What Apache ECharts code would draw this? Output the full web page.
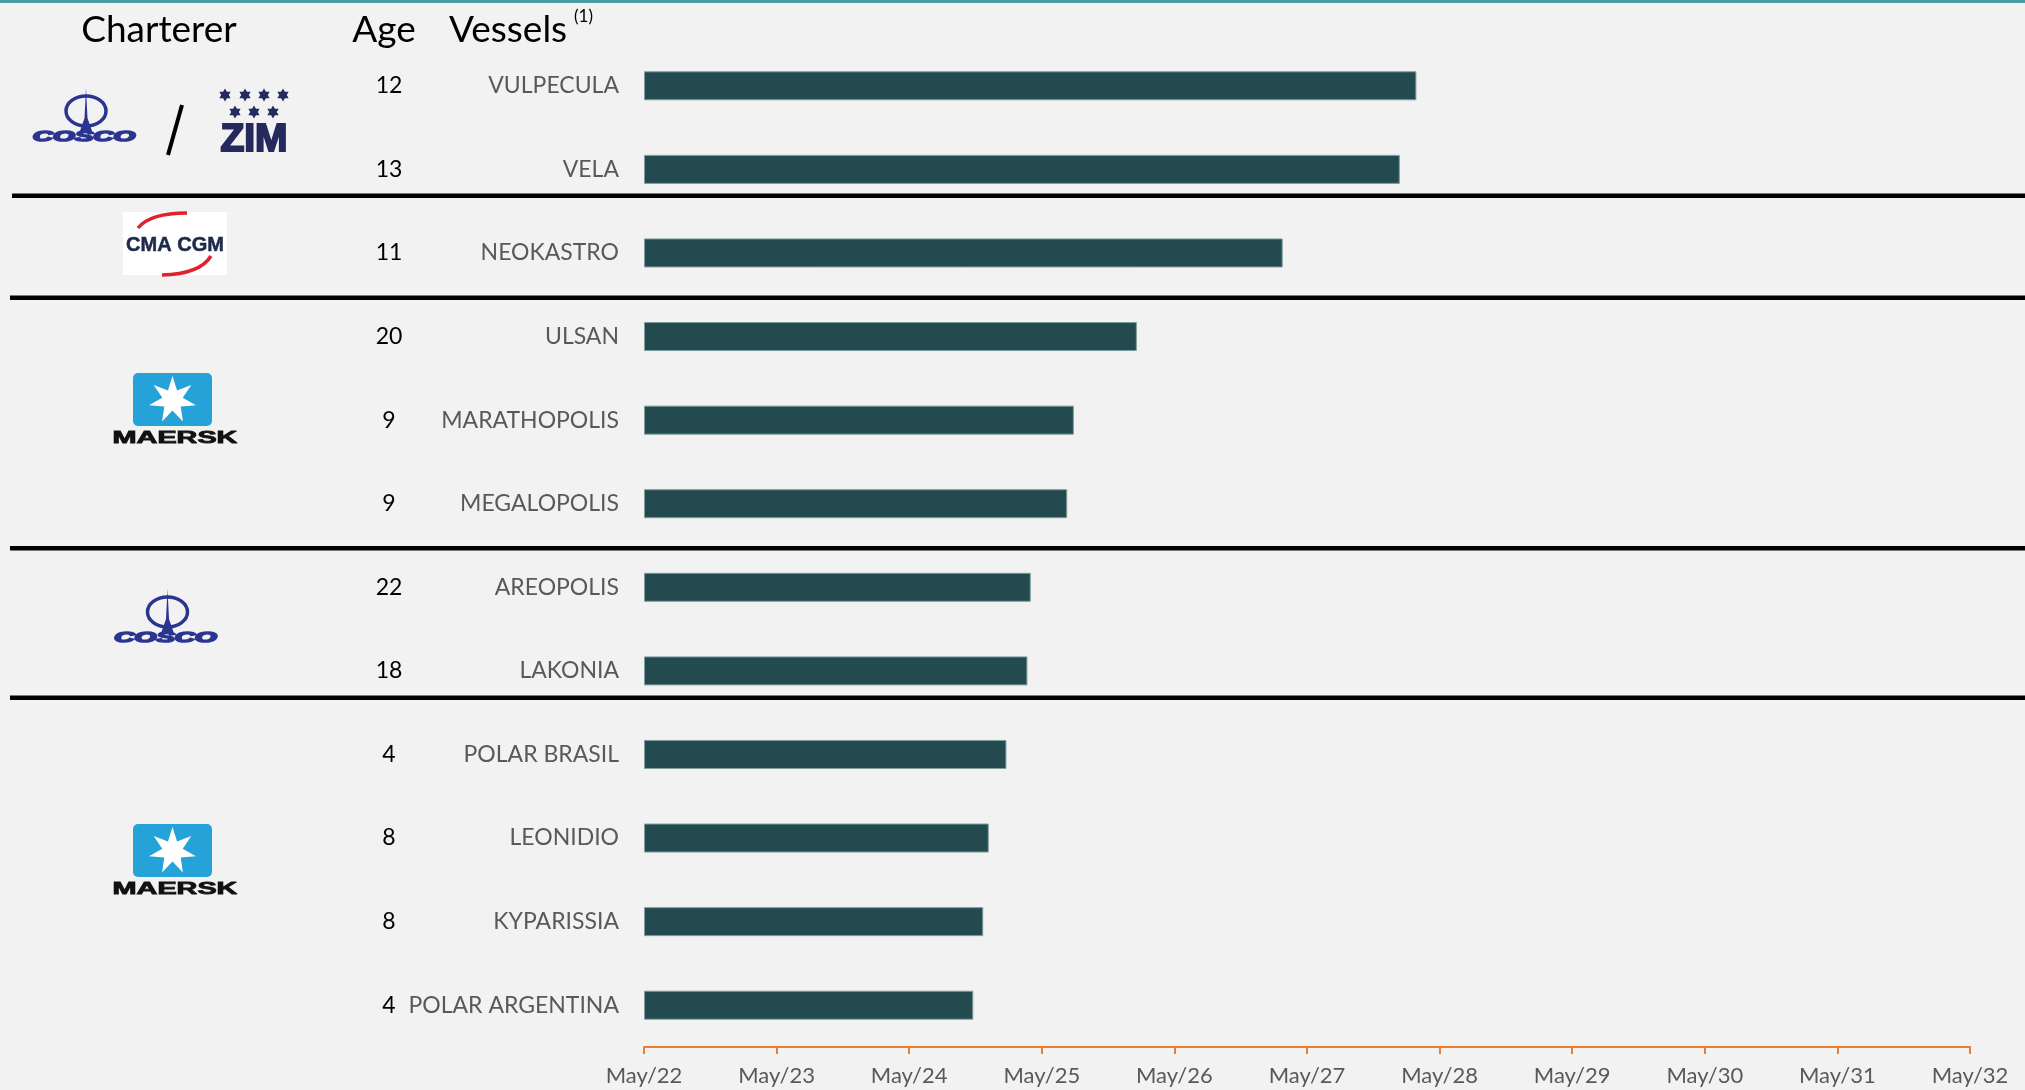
<!DOCTYPE html>
<html><head><meta charset="utf-8">
<script src="https://cdn.jsdelivr.net/npm/echarts@6/dist/echarts.min.js"></script>
<style>html,body{margin:0;padding:0;background:#f2f2f2}#c{width:2025px;height:1090px}</style>
</head><body><div id="c"></div>
<script>
// ---- data ----
const vessels = ['VULPECULA','VELA','NEOKASTRO','ULSAN','MARATHOPOLIS','MEGALOPOLIS','AREOPOLIS','LAKONIA','POLAR BRASIL','LEONIDIO','KYPARISSIA','POLAR ARGENTINA'];
const ages = ['12','13','11','20','9','9','22','18','4','8','8','4'];
// charter expiry, in months after May 2022
const charterMonths = [69.9, 68.4, 57.8, 44.6, 38.9, 38.3, 35.0, 34.7, 32.8, 31.2, 30.7, 29.8];
const tickLabels = ['May/22','May/23','May/24','May/25','May/26','May/27','May/28','May/29','May/30','May/31','May/32'];
const headers = ['Charterer','Age','Vessels','(1)'];

// ---- decoration helpers ----
const FONT = 'Lato';
function starPts(cx, cy, n, r, r0) {
  const p = [];
  for (let i = 0; i < 2 * n; i++) {
    const a = -Math.PI / 2 + i * Math.PI / n;
    const rr = i % 2 ? r0 : r;
    p.push([cx + rr * Math.cos(a), cy + rr * Math.sin(a)]);
  }
  return p;
}
const COSCO_BLUE = '#2b3591';
function cosco(dx, dy) {
  return [
    { type: 'ellipse', shape: { cx: 86 + dx, cy: 111 + dy, rx: 20, ry: 15 }, style: { fill: 'none', stroke: COSCO_BLUE, lineWidth: 3.5 } },
    { type: 'polygon', shape: { points: [[86 + dx, 88 + dy], [84.5 + dx, 118 + dy], [80 + dx, 131 + dy], [92 + dx, 131 + dy], [87.5 + dx, 118 + dy]] }, style: { fill: COSCO_BLUE } },
    { type: 'text', x: 84 + dx, y: 137 + dy, scaleX: 2.0, style: { text: 'COSCO', font: 'italic bold 14px "Liberation Sans"', fill: COSCO_BLUE, stroke: COSCO_BLUE, lineWidth: 1.6, align: 'center', verticalAlign: 'middle' } }
  ];
}
function maersk(dy) {
  return [
    { type: 'rect', shape: { x: 133, y: 373 + dy, width: 79, height: 53, r: 5 }, style: { fill: '#25a3d9' } },
    { type: 'polygon', shape: { points: starPts(172.5, 400 + dy, 7, 24, 10.5) }, style: { fill: '#ffffff' } },
    { type: 'text', x: 175, y: 439 + dy, scaleX: 1.8, style: { text: 'MAERSK', font: 'bold 16px "Liberation Sans"', fill: '#111111', stroke: '#111111', lineWidth: 0.8, align: 'center', verticalAlign: 'middle' } }
  ];
}
const ZIM_BLUE = '#24295e';
function zim() {
  const g = [];
  [225, 245, 264, 283].forEach(x => g.push({ type: 'polygon', shape: { points: starPts(x, 95, 6, 6.5, 3.8) }, style: { fill: ZIM_BLUE } }));
  [235, 254, 273].forEach(x => g.push({ type: 'polygon', shape: { points: starPts(x, 112, 6, 6.5, 3.8) }, style: { fill: ZIM_BLUE } }));
  g.push({ type: 'text', x: 254, y: 140, style: { text: 'ZIM', font: 'bold 39px "Liberation Sans"', fill: ZIM_BLUE, stroke: ZIM_BLUE, lineWidth: 2, align: 'center', verticalAlign: 'middle' } });
  return g;
}
function cmacgm() {
  return [
    { type: 'rect', shape: { x: 123, y: 212, width: 104, height: 63 }, style: { fill: '#ffffff' } },
    { type: 'text', x: 175, y: 245, style: { text: 'CMA CGM', font: 'bold 20px "Liberation Sans"', fill: '#1d2a4a', stroke: '#1d2a4a', lineWidth: 0.5, align: 'center', verticalAlign: 'middle' } },
    { type: 'bezierCurve', shape: { x1: 138, y1: 228, x2: 187, y2: 213, cpx1: 150, cpy1: 213 }, style: { stroke: '#e3202d', lineWidth: 3.5, fill: 'none' } },
    { type: 'bezierCurve', shape: { x1: 162, y1: 275, x2: 211, y2: 256, cpx1: 200, cpy1: 274 }, style: { stroke: '#e3202d', lineWidth: 3.5, fill: 'none' } }
  ];
}
function sep(y, x0) {
  return { type: 'rect', shape: { x: x0, y: y - 2.5, width: 2025 - x0, height: 4.5 }, style: { fill: '#000000' } };
}

const graphics = [
  { type: 'rect', shape: { x: 0, y: 0, width: 2025, height: 3 }, style: { fill: '#4a9ba2' } },
  { type: 'text', x: 159, y: 30, style: { text: headers[0], font: '37px ' + FONT, fill: '#000', align: 'center', verticalAlign: 'middle' } },
  { type: 'text', x: 384, y: 30, style: { text: headers[1], font: '37px ' + FONT, fill: '#000', align: 'center', verticalAlign: 'middle' } },
  { type: 'text', x: 449, y: 30, style: { text: headers[2], font: '37px ' + FONT, fill: '#000', align: 'left', verticalAlign: 'middle' } },
  { type: 'text', x: 574, y: 17, style: { text: headers[3], font: '17px ' + FONT, fill: '#000', align: 'left', verticalAlign: 'middle' } },
  sep(196, 12), sep(298, 10), sep(548.5, 10), sep(698, 10),
  { type: 'line', shape: { x1: 182, y1: 105, x2: 168, y2: 155 }, style: { stroke: '#000', lineWidth: 4 } },
  ...cosco(0, 0), ...zim(), ...cmacgm(), ...maersk(0), ...cosco(81.5, 501), ...maersk(451)
];

const chart = echarts.init(document.getElementById('c'));
chart.setOption({
  backgroundColor: '#f2f2f2',
  animation: false,
  grid: { left: 644, right: 55, top: 44, bottom: 43, containLabel: false },
  xAxis: {
    type: 'value', min: 0, max: 120, interval: 12,
    axisLine: { show: true, lineStyle: { color: '#ED7D31', width: 2 } },
    axisTick: { show: true, length: 7, lineStyle: { color: '#ED7D31', width: 2 } },
    splitLine: { show: false },
    axisLabel: { color: '#595959', fontSize: 22, fontFamily: FONT, margin: 18, formatter: v => tickLabels[Math.round(v / 12)] }
  },
  yAxis: [
    { type: 'category', data: vessels, inverse: true, axisLine: { show: false }, axisTick: { show: false },
      axisLabel: { color: '#595959', fontSize: 23, fontFamily: FONT, margin: 25 } },
    { type: 'category', data: ages, inverse: true, position: 'left', offset: 255, axisLine: { show: false }, axisTick: { show: false },
      axisLabel: { color: '#000000', fontSize: 23, fontFamily: FONT, margin: 0, align: 'center' } }
  ],
  series: [{
    type: 'bar', yAxisIndex: 0, data: charterMonths, barWidth: 29,
    itemStyle: { color: '#234b4f', borderColor: '#7f9c9d', borderWidth: 1 }
  }],
  graphic: { elements: graphics }
});
</script></body></html>
